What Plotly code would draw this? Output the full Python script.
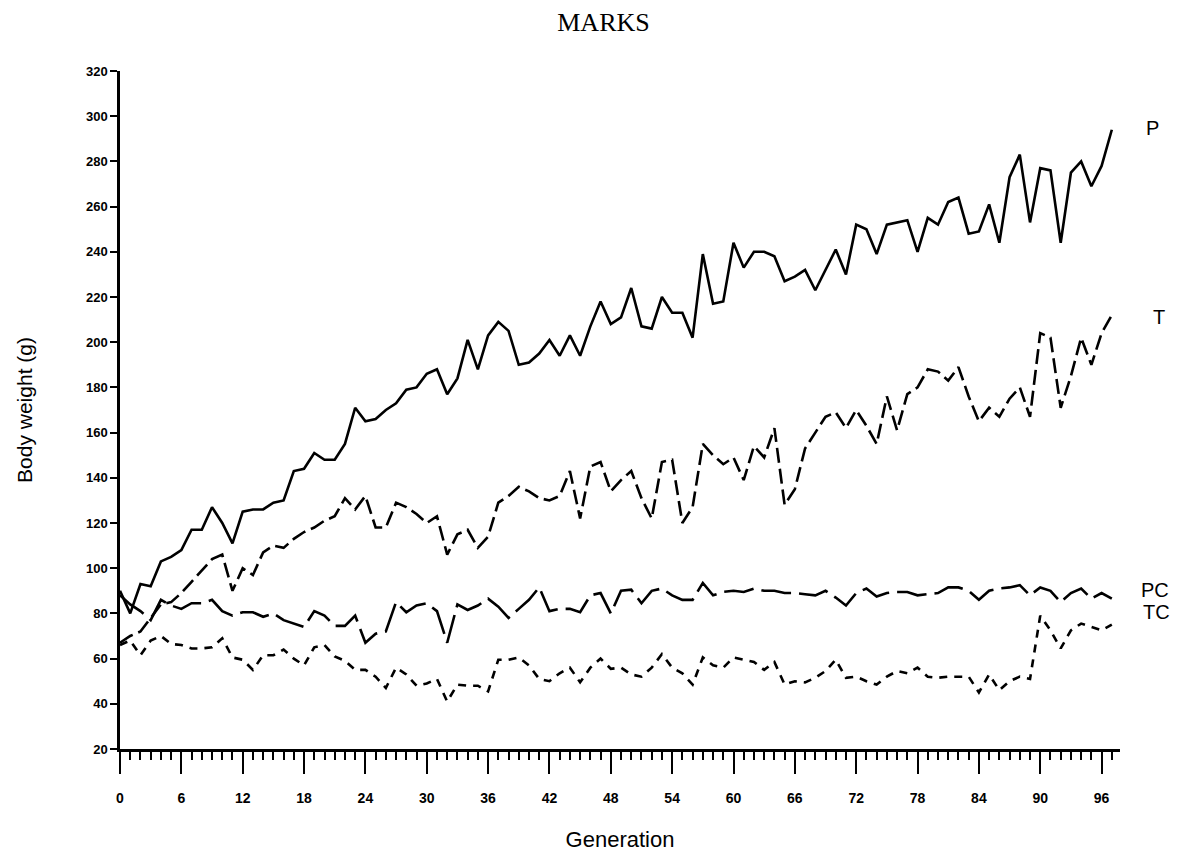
import plotly.graph_objects as go

generation = list(range(98))

P = [90, 80, 93, 92, 103, 105, 108, 117, 117, 127,
     120, 111, 125, 126, 126, 129, 130, 143, 144, 151,
     148, 148, 155, 171, 165, 166, 170, 173, 179, 180,
     186, 188, 177, 184, 201, 188, 203, 209, 205, 190,
     191, 195, 201, 194, 203, 194, 207, 218, 208, 211,
     224, 207, 206, 220, 213, 213, 202, 239, 217, 218,
     244, 233, 240, 240, 238, 227, 229, 232, 223, 232,
     241, 230, 252, 250, 239, 252, 253, 254, 240, 255,
     252, 262, 264, 248, 249, 261, 244, 273, 283, 253,
     277, 276, 244, 275, 280, 269, 278, 294]

T = [67, 70, 72, 78, 84, 85, 89, 94, 99, 104,
     106, 90, 100, 97, 107, 110, 109, 113, 116, 118,
     121, 123, 131, 126, 132, 118, 118, 129, 127, 124,
     120, 123, 106, 115, 117, 109, 114, 129, 132, 136,
     134, 131, 130, 132, 143, 122, 145, 147, 134, 139,
     143, 131, 122, 147, 148, 120, 127, 155, 150, 146,
     149, 139, 154, 149, 162, 128, 135, 153, 160, 167,
     169, 162, 170, 163, 155, 176, 161, 177, 180, 188,
     187, 183, 189, 176, 165, 171, 167, 175, 180, 167,
     204, 202, 171, 185, 202, 190, 204, 212]

PC = [88, 84, 81, 77, 86, 83.5, 82, 84.5, 84.5, 86,
      81, 79, 80.5, 80.5, 78.5, 80, 77, 75.5, 74, 81,
      79, 74.5, 74.5, 79, 67, 71, 72, 85, 80.5, 83.5,
      84.5, 81, 67, 84, 81.5, 83.5, 86.5, 83, 78, 82,
      86, 91.5, 81, 82, 82, 80.5, 88, 89, 80, 90,
      90.5, 84.5, 90, 91, 88, 86, 86, 93.5, 88, 89.5,
      90, 89.5, 91, 90, 90, 89, 89, 88.5, 88, 90,
      87, 83.5, 89, 91, 87.5, 89, 89.5, 89.5, 88, 88.5,
      89, 91.5, 91.5, 90, 86, 90, 91, 91.5, 92.5, 88,
      91.5, 90, 85, 89, 91, 86.5, 89, 86.5]

TC = [66, 68, 61.5, 68, 70, 66.5, 66, 64.5, 64.5, 65,
      69, 60.5, 59.5, 55, 61.5, 61.5, 64, 60, 57, 65,
      66, 61, 59, 55, 55, 52, 47, 56, 53, 48,
      49, 51, 41, 48.5, 48, 48, 45.5, 59.5, 59.5, 60.5,
      57, 51, 50, 53.5, 56, 49.5, 56, 60, 55.5, 56,
      53, 52, 56, 62, 56, 53.5, 48.5, 60.5, 57, 56,
      60.5, 59.5, 58.5, 55, 58.5, 48.5, 50, 49.5, 51.5, 54.5,
      59.5, 51.5, 52, 50, 48.5, 52, 54.5, 53.5, 56, 52,
      51.5, 52, 52, 52, 45, 53, 46, 50, 52, 51,
      79, 72.5, 64.5, 72.5, 75.5, 74, 72.5, 75]

x_ticks = list(range(0, 97, 6))
y_ticks = list(range(20, 321, 20))

series = [
    ("P", P, "solid"),
    ("T", T, "15px,6px"),
    ("PC", PC, "30px,8px"),
    ("TC", TC, "8px,7px"),
]

# label placement: (paper x, data y)
label_pos = {"P": (1.024, 295), "T": (1.031, 211), "PC": (1.019, 90.5), "TC": (1.021, 80.5)}

fig = go.Figure()
for name, vals, dash in series:
    fig.add_trace(go.Scatter(
        x=generation, y=vals, mode="lines", name=name,
        line=dict(color="black", width=2.6, dash=dash),
        showlegend=False,
    ))

for name, (lx, ly) in label_pos.items():
    fig.add_annotation(x=lx, y=ly, xref="paper", yref="y", text=name, showarrow=False,
                       xanchor="left", yanchor="middle",
                       font=dict(family="Liberation Sans, Arial", size=20, color="black"))

fig.update_layout(
    width=1188, height=852,
    margin=dict(l=120, r=68, t=71, b=103),
    paper_bgcolor="white", plot_bgcolor="white",
    title=dict(text="MARKS", x=0.508, xanchor="center", y=0.974, yanchor="middle",
               font=dict(family="Liberation Serif, Times New Roman", size=26, color="black")),
)

fig.update_xaxes(
    range=[0, 97.8], tickvals=x_ticks, ticktext=[str(v) for v in x_ticks],
    automargin=False,
    showgrid=False, zeroline=False, showline=True, linecolor="black", linewidth=2.5,
    ticks="outside", ticklen=22, tickwidth=2, tickcolor="black",
    minor=dict(dtick=1, tick0=0, ticks="outside", ticklen=8, tickwidth=2, tickcolor="black"),
    tickfont=dict(family="Liberation Sans, Arial", size=14, color="black", weight="bold"),
    ticklabelstandoff=12,
    title=dict(text="Generation", standoff=28,
               font=dict(family="Liberation Sans, Arial", size=22, color="black")),
)

fig.update_yaxes(
    range=[20, 320], tickvals=y_ticks, ticktext=[str(v) for v in y_ticks],
    automargin=False,
    showgrid=False, zeroline=False, showline=True, linecolor="black", linewidth=2.5,
    ticks="outside", ticklen=7, tickwidth=2, tickcolor="black",
    tickfont=dict(family="Liberation Sans, Arial", size=13, color="black", weight="bold"),
    title=dict(text="Body weight (g)", standoff=48,
               font=dict(family="Liberation Sans, Arial", size=21, color="black")),
)

fig.write_html("out.html")
